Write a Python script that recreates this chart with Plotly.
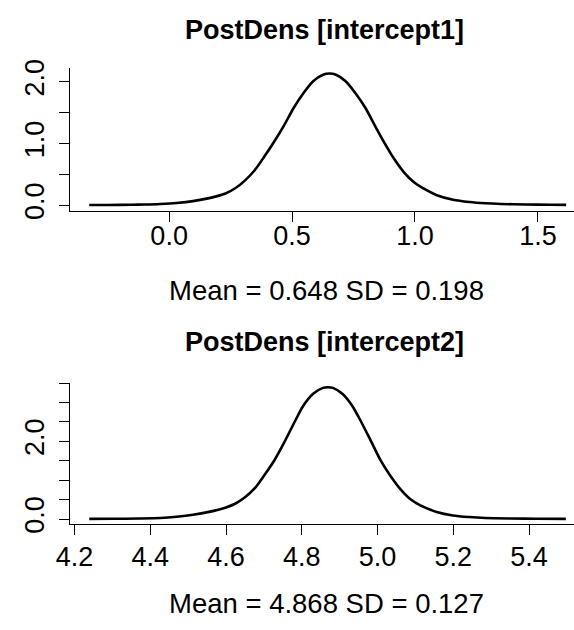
import plotly.graph_objects as go

# ---- data ----
x1 = [-0.325, -0.25, -0.15, -0.1, -0.036, 0.030, 0.097, 0.163, 0.229, 0.269, 0.308,
      0.348, 0.388, 0.427, 0.467, 0.507, 0.546, 0.586, 0.626, 0.652, 0.679, 0.718,
      0.758, 0.798, 0.837, 0.877, 0.917, 0.956, 0.996, 1.036, 1.089, 1.155, 1.221,
      1.287, 1.35, 1.45, 1.55, 1.615]
y1 = [0.003, 0.004, 0.008, 0.012, 0.021, 0.037, 0.066, 0.115, 0.190, 0.275, 0.399,
      0.567, 0.793, 1.029, 1.291, 1.580, 1.816, 2.010, 2.115, 2.136, 2.115, 2.010,
      1.816, 1.580, 1.291, 1.003, 0.740, 0.530, 0.373, 0.268, 0.163, 0.089, 0.052,
      0.031, 0.020, 0.012, 0.007, 0.005]

x2 = [4.239, 4.300, 4.370, 4.427, 4.470, 4.513, 4.555, 4.598, 4.624, 4.650, 4.676,
      4.701, 4.727, 4.753, 4.779, 4.804, 4.830, 4.856, 4.869, 4.882, 4.907, 4.933,
      4.959, 4.985, 5.010, 5.036, 5.062, 5.088, 5.113, 5.156, 5.199, 5.242, 5.285,
      5.350, 5.420, 5.497]
y2 = [0.002, 0.005, 0.012, 0.025, 0.058, 0.108, 0.183, 0.292, 0.392, 0.558, 0.792,
      1.125, 1.500, 1.958, 2.458, 2.917, 3.225, 3.375, 3.392, 3.375, 3.225, 2.917,
      2.458, 1.958, 1.475, 1.083, 0.750, 0.500, 0.350, 0.183, 0.092, 0.050, 0.025,
      0.013, 0.007, 0.004]

titles = ["PostDens [intercept1]", "PostDens [intercept2]"]
subtitles = ["Mean = 0.648 SD = 0.198", "Mean = 4.868 SD = 0.127"]

x1_ticks = [0.0, 0.5, 1.0, 1.5]
x1_labels = ["0.0", "0.5", "1.0", "1.5"]
y1_ticks = [0.0, 0.5, 1.0, 1.5, 2.0]
y1_labels = ["0.0", "", "1.0", "", "2.0"]

x2_ticks = [4.2, 4.4, 4.6, 4.8, 5.0, 5.2, 5.4]
x2_labels = ["4.2", "4.4", "4.6", "4.8", "5.0", "5.2", "5.4"]
y2_ticks = [0.0, 0.5, 1.0, 1.5, 2.0, 2.5, 3.0, 3.5]
y2_labels = ["0.0", "", "", "", "2.0", "", "", ""]

W, H = 574, 630
FONT = "Liberation Sans, Arial, sans-serif"
FS_TICK = 27
FS_TITLE = 27
FS_SUB = 27.5

fig = go.Figure()
fig.add_trace(go.Scatter(x=x1, y=y1, mode="lines",
                         line=dict(color="black", width=2.6, shape="spline", smoothing=0.8),
                         xaxis="x", yaxis="y", showlegend=False, hoverinfo="skip"))
fig.add_trace(go.Scatter(x=x2, y=y2, mode="lines",
                         line=dict(color="black", width=2.6, shape="spline", smoothing=0.8),
                         xaxis="x2", yaxis="y2", showlegend=False, hoverinfo="skip"))

def px_x(p):
    return p / W

def px_y(p):
    return 1 - p / H

common_ax = dict(showline=True, linecolor="black", linewidth=1.3, ticks="outside", ticklen=10,
                 tickwidth=1.2, tickcolor="black", showgrid=False, zeroline=False,
                 tickfont=dict(family=FONT, size=FS_TICK, color="black"), fixedrange=True)

fig.update_layout(
    width=W, height=H, margin=dict(l=0, r=0, t=0, b=0),
    paper_bgcolor="white", plot_bgcolor="white",
    xaxis=dict(domain=[px_x(57.5), 1], range=[-0.4028, 1.6468], anchor="y",
               tickvals=x1_ticks, ticktext=x1_labels, ticklabelstandoff=-9, **common_ax),
    yaxis=dict(domain=[px_y(207.5), px_y(61)], range=[-0.0866, 2.2205], anchor="x",
               tickvals=y1_ticks, ticktext=y1_labels, tickangle=-90, ticklabelstandoff=4, **common_ax),
    xaxis2=dict(domain=[px_x(57.5), 1], range=[4.1884, 5.5186], anchor="y2",
                tickvals=x2_ticks, ticktext=x2_labels, ticklabelstandoff=-2, **common_ax),
    yaxis2=dict(domain=[px_y(530.5), px_y(384.5)], range=[-0.1375, 3.5125], anchor="x2",
                tickvals=y2_ticks, ticktext=y2_labels, tickangle=-90, ticklabelstandoff=4, **common_ax),
)

ann = []
for t, yc in zip(titles, [22, 343]):
    ann.append(dict(text="<b>%s</b>" % t, x=px_x(318), y=px_y(yc), xref="paper", yref="paper",
                    xanchor="center", yanchor="middle", showarrow=False,
                    font=dict(family=FONT, size=FS_TITLE, color="black")))
for t, yc in zip(subtitles, [290, 612]):
    ann.append(dict(text=t, x=px_x(320), y=px_y(yc), xref="paper", yref="paper",
                    xanchor="center", yanchor="middle", showarrow=False,
                    font=dict(family=FONT, size=FS_SUB, color="black")))
fig.update_layout(annotations=ann)

fig.write_html("out.html")
